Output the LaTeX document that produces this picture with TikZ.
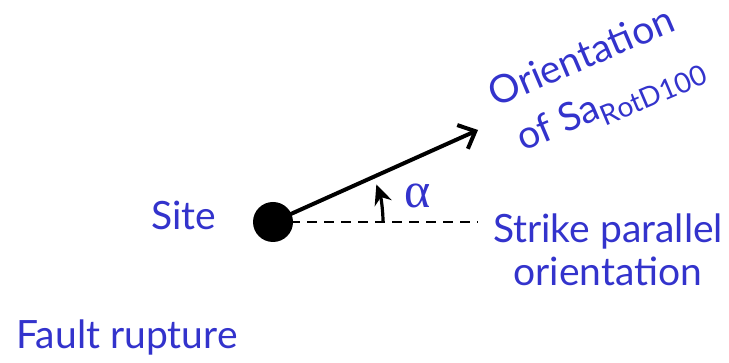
\documentclass[tikz,border=0pt]{standalone}
\usepackage{fontspec}
\setmainfont{Lato}
\newfontfamily\greekfont{Liberation Serif}
\usetikzlibrary{arrows.meta}
\definecolor{labelblue}{RGB}{51,51,204}

\begin{document}
\begin{tikzpicture}[x=0.5pt, y=-0.5pt,
    lbl/.style={text=labelblue, font=\fontsize{19.5}{21.5}\selectfont, inner sep=0pt},
    sitedot/.style={circle, fill=black, minimum size=20pt, inner sep=0pt}]
    \useasboundingbox (0,0) rectangle (729,363);
    % site and the two directions
    \node[sitedot] (site) at (273,222) {};
    \coordinate (tip) at (478,130);
    \coordinate (strikeend) at (478,222);
    \draw[line width=1pt, dash pattern=on 5pt off 3.5pt] (site.center) -- (strikeend);
    \draw[line width=2pt, -{Straight Barb[length=7pt, width=13pt]}] (site.center) -- (tip);
    \draw[line width=1.6pt, -{Stealth[length=10pt, width=9pt]}] (site.center) ++(0:110) arc (0:-20:110);
    % labels
    \node[lbl] (sitelabel) at (184,215) {Site};
    \node[lbl, font=\fontsize{25}{25}\selectfont] (alpha) at (418,196) {\greekfont α};
    \node[lbl, align=center] (strike) at (608,250) {Strike parallel\\orientation};
    \node[lbl, rotate=23] (orient) at (581,56) {Orientation};
    \node[lbl, rotate=23] (ofsa) at (611,104) {of Sa\raisebox{-0.45ex}{\fontsize{14}{14}\selectfont RotD100}};
    \node[lbl] (fault) at (127,337) {Fault rupture};
\end{tikzpicture}
\end{document}
